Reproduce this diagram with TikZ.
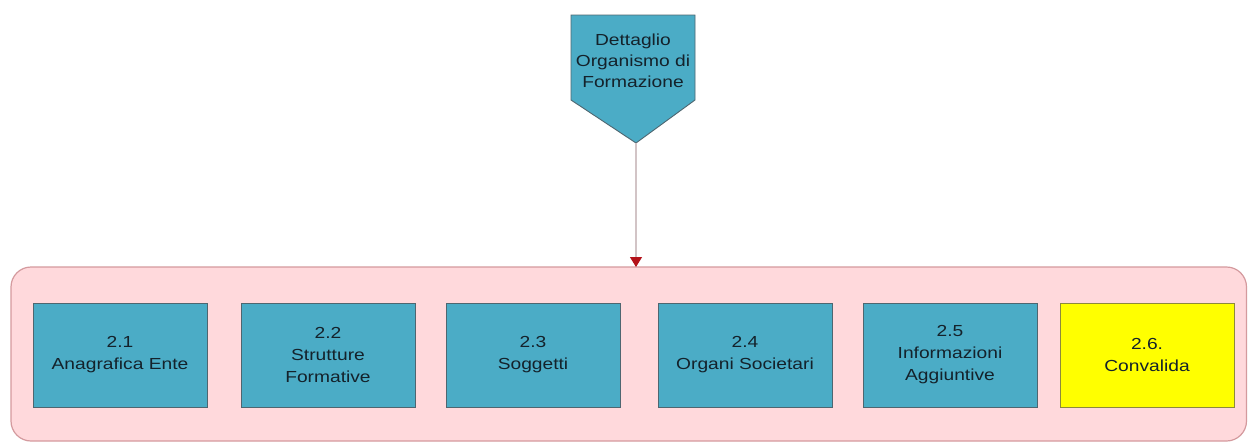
\documentclass[tikz,border=0pt]{standalone}
\usepackage{fontspec}
\setmainfont{Liberation Sans}[FakeStretch=1.2]
\usetikzlibrary{arrows.meta}
\definecolor{boxblue}{HTML}{4BACC6}
\definecolor{boxedge}{HTML}{4E6670}
\definecolor{panelpink}{HTML}{FFD9DC}
\definecolor{paneledge}{HTML}{D49A9E}
\definecolor{txt}{HTML}{14222B}
\definecolor{arrowred}{HTML}{B4121A}
\definecolor{linegray}{HTML}{D2C4C6}
\definecolor{yellowedge}{HTML}{8C8A3C}
\tikzset{
  stepbox/.style={draw=boxedge, line width=0.9pt, fill=boxblue, minimum width=174pt, minimum height=104pt,
    align=center, text=txt, font=\fontsize{16pt}{22pt}\selectfont, inner sep=0pt},
  donebox/.style={stepbox, fill={rgb,255:red,255;green,255;blue,0}, draw=yellowedge},
  panel/.style={draw=paneledge, line width=1.2pt, fill=panelpink, rounded corners=20pt},
  link/.style={draw=linegray, line width=1.2pt, -{Triangle[length=10pt,width=12pt,fill=arrowred,color=arrowred]}}
}
\begin{document}
\begin{tikzpicture}[x=1pt,y=-1pt]
\useasboundingbox (0,0) rectangle (1248,442);
\fill[white] (0,0) rectangle (1248,442);
% container
\draw[panel] (11,267) rectangle (1246.5,441) ;
\coordinate (paneltop) at (636,267);
% top pentagon
\draw[draw=boxedge, line width=0.9pt, fill=boxblue] (571,15) -- (695,15) -- (695,100) -- (636,143) -- (571,100) -- cycle;
\node[align=center, text=txt, font=\fontsize{16pt}{21pt}\selectfont, inner sep=0pt] (top) at (633,61) {Dettaglio\\Organismo di\\Formazione};
\coordinate (toptip) at (636,143);
\draw[link] (toptip) -- (paneltop);
% boxes
\node[stepbox] (b1) at (120,355) {2.1\\Anagrafica Ente};
\node[stepbox] (b2) at (328,355) {2.2\\Strutture\\Formative};
\node[stepbox] (b3) at (533,355) {2.3\\Soggetti};
\node[stepbox] (b4) at (745,355) {2.4\\Organi Societari};
\node[stepbox] (b5) at (950,355) {2.5\\Informazioni\\Aggiuntive};
\node[donebox] (b6) at (1147,355) {2.6.\\Convalida};
\end{tikzpicture}
\end{document}
